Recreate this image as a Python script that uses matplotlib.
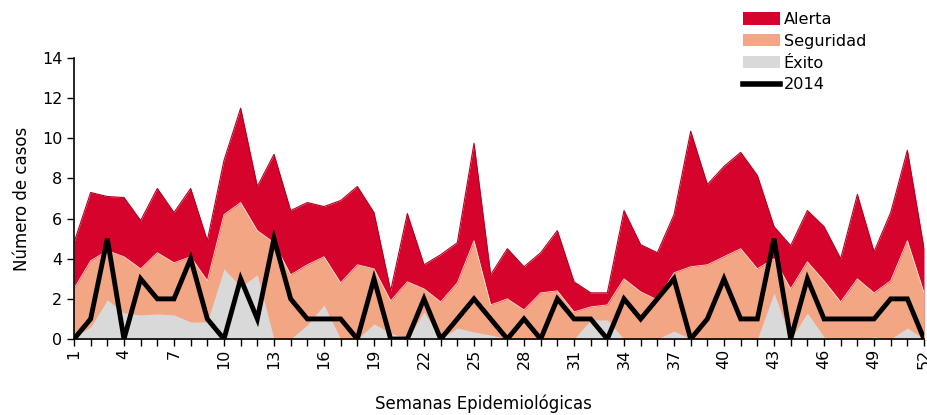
import numpy as np
import matplotlib
matplotlib.use("Agg")
import matplotlib.pyplot as plt
from matplotlib.patches import Patch
from matplotlib.lines import Line2D

#weekly channel values
weeks = np.arange(1, 53)
alerta = [4.8, 7.3, 7.1, 7.05, 5.9, 7.5, 6.3, 7.5, 4.9, 8.9,
          11.5, 7.6, 9.2, 6.4, 6.8, 6.6, 6.9, 7.6, 6.3, 2.4,
          6.25, 3.7, 4.2, 4.8, 9.75, 3.2, 4.5, 3.6, 4.3, 5.4,
          2.85, 2.3, 2.3, 6.4, 4.7, 4.3, 6.2, 10.35, 7.7, 8.6,
          9.3, 8.15, 5.6, 4.65, 6.4, 5.6, 4.0, 7.2, 4.35, 6.3,
          9.4, 4.5]
seguridad = [2.5, 3.9, 4.4, 4.1, 3.5, 4.3, 3.8, 4.1, 2.9, 6.2,
             6.8, 5.4, 4.8, 3.2, 3.7, 4.1, 2.8, 3.7, 3.5, 1.9,
             2.85, 2.5, 1.85, 2.8, 4.9, 1.7, 2.0, 1.45, 2.3, 2.4,
             1.35, 1.6, 1.7, 3.0, 2.35, 1.95, 3.3, 3.6, 3.7, 4.1,
             4.5, 3.5, 4.0, 2.5, 3.85, 2.9, 1.85, 3.0, 2.3, 2.9,
             4.9, 2.3]
exito = [0.1, 0.6, 1.95, 1.3, 1.2, 1.25, 1.2, 0.85, 0.85, 3.5,
         2.6, 3.2, 0.0, 0.0, 0.7, 1.7, 0.0, 0.0, 0.75, 0.3,
         0.0, 1.35, 0.0, 0.55, 0.35, 0.2, 0.0, 0.0, 0.0, 0.0,
         0.0, 0.95, 0.95, 0.0, 0.0, 0.0, 0.4, 0.0, 0.0, 0.0,
         0.0, 0.0, 2.3, 0.0, 1.3, 0.1, 0.0, 0.0, 0.1, 0.0,
         0.55, 0.0]
casos_2014 = [0, 1, 5, 0, 3, 2, 2, 4, 1, 0,
              3, 1, 5, 2, 1, 1, 1, 0, 3, 0,
              0, 2, 0, 1, 2, 1, 0, 1, 0, 2,
              1, 1, 0, 2, 1, 2, 3, 0, 1, 3,
              1, 1, 5, 0, 3, 1, 1, 1, 1, 2,
              2, 0]
xtick_weeks = list(range(1, 53, 3))

red = "#d6042c"
salmon = "#f3a683"
grey = "#d9d9d9"

fig = plt.figure(figsize=(9.27, 4.15), dpi=100)
ax = fig.add_axes([0.0798, 0.1831, 0.9170, 0.6771])

ax.fill_between(weeks, 0, alerta, color=red, lw=0)
#thin darker rim to mimic the bevel of the original
ax.plot(weeks, alerta, color="#b3001f", lw=0.8)
ax.fill_between(weeks, 0, seguridad, color=salmon, lw=0)
ax.plot(weeks, seguridad, color="#fbe3d6", lw=0.6)
ax.fill_between(weeks, 0, exito, color=grey, lw=0)
ax.plot(weeks, casos_2014, color="black", lw=3.5, solid_joinstyle="miter")

ax.set_xlim(1, 52)
ax.set_ylim(0, 14)
ax.set_yticks(range(0, 15, 2))
ax.set_xticks(weeks, minor=True)
ax.set_xticks(xtick_weeks)
ax.set_xticklabels([str(w) for w in xtick_weeks], rotation=90)
ax.tick_params(axis="both", which="both", direction="out", length=5,
               width=1, labelsize=11.5, colors="black")
ax.tick_params(axis="x", pad=2)
for s in ["top", "right"]:
    ax.spines[s].set_visible(False)
for s in ["left", "bottom"]:
    ax.spines[s].set_linewidth(1.2)
    ax.spines[s].set_zorder(5)

ax.set_ylabel("Número de casos", fontsize=12, labelpad=8)
fig.text(0.521, 0.005, "Semanas Epidemiológicas", ha="center", va="bottom",
         fontsize=12)

handles = [Patch(facecolor=red, edgecolor="none"),
           Patch(facecolor=salmon, edgecolor="none"),
           Patch(facecolor=grey, edgecolor="none"),
           Line2D([0], [0], color="black", lw=4)]
labels = ["Alerta", "Seguridad", "Éxito", "2014"]
fig.legend(handles, labels, loc="upper left",
           bbox_to_anchor=(0.789, 0.998), frameon=False, fontsize=11.6,
           handlelength=2.3, handleheight=0.8, handletextpad=0.25,
           labelspacing=0.42, borderpad=0.2)

fig.savefig("out.png", dpi=100)
